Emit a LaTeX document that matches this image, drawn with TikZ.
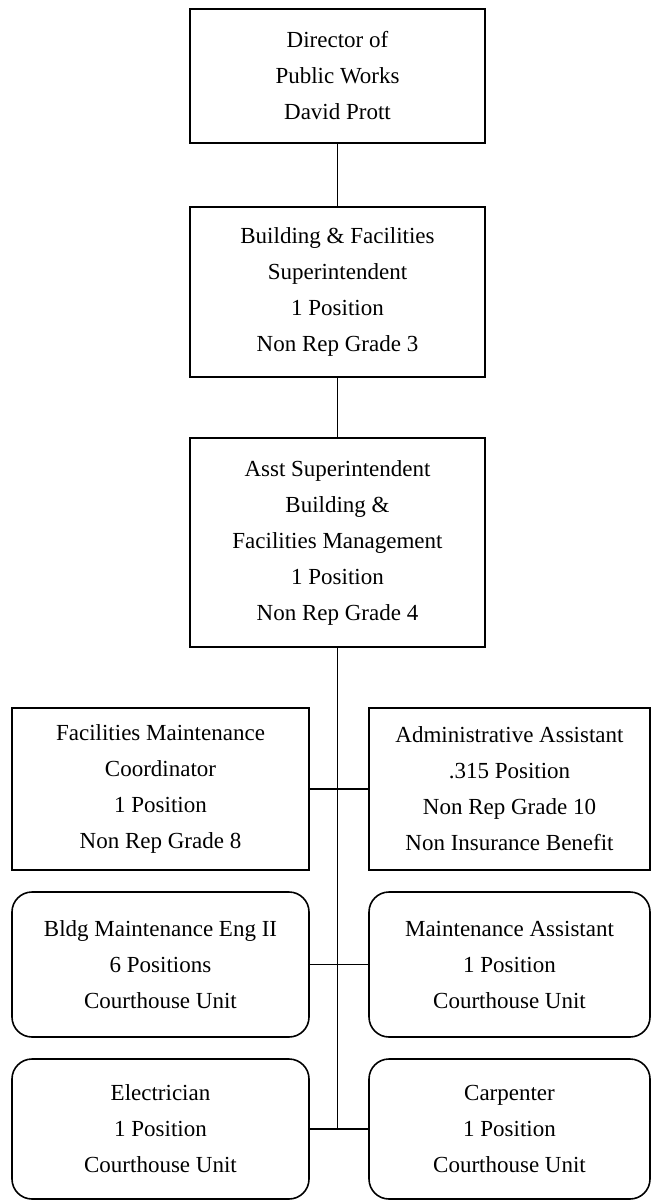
\documentclass[tikz,border=0pt]{standalone}
\usepackage{fontspec}
\setmainfont{Liberation Serif}
\begin{document}
\begin{tikzpicture}[x=1pt,y=-1pt,
  post/.style={draw, line width=1.6pt, align=center, inner sep=0pt,
    font=\fontsize{23}{36}\selectfont},
  sqbox/.style={post, rectangle},
  rdbox/.style={post, rectangle, rounded corners=20pt},
  link/.style={line width=1.6pt}]
\useasboundingbox (0,0) rectangle (652,1201);

% management chain
\node[sqbox, minimum width=295pt, minimum height=134pt] (dir) at (337.5,76)
  {Director of\\Public Works\\David Prott};
\node[sqbox, minimum width=295pt, minimum height=170pt] (bfs) at (337.5,292)
  {Building \& Facilities\\Superintendent\\1 Position\\Non Rep Grade 3};
\node[sqbox, minimum width=295pt, minimum height=209pt] (asst) at (337.5,542.5)
  {Asst Superintendent\\Building \&\\Facilities Management\\1 Position\\Non Rep Grade 4};

% staff row
\node[sqbox, minimum width=297pt, minimum height=162pt] (fmc) at (160.5,789)
  {Facilities Maintenance\\Coordinator\\1 Position\\Non Rep Grade 8};
\node[sqbox, minimum width=281pt, minimum height=162pt] (adm) at (509.5,789)
  {Administrative Assistant\\.315 Position\\Non Rep Grade 10\\Non Insurance Benefit};

% courthouse unit rows
\node[rdbox, minimum width=297pt, minimum height=145pt] (bme) at (160.5,964.5)
  {Bldg Maintenance Eng II\\6 Positions\\Courthouse Unit};
\node[rdbox, minimum width=281pt, minimum height=145pt] (ma) at (509.5,964.5)
  {Maintenance Assistant\\1 Position\\Courthouse Unit};
\node[rdbox, minimum width=297pt, minimum height=140pt] (ele) at (160.5,1129)
  {Electrician\\1 Position\\Courthouse Unit};
\node[rdbox, minimum width=281pt, minimum height=140pt] (car) at (509.5,1129)
  {Carpenter\\1 Position\\Courthouse Unit};

% connectors
\coordinate (trunkend) at (asst.south |- ele.east);
\draw[link] (dir.south) -- (bfs.north);
\draw[link] (bfs.south) -- (asst.north);
\draw[link] (asst.south) -- (trunkend);
\draw[link] (fmc.east) -- (adm.west);
\draw[link] (bme.east) -- (ma.west);
\draw[link] (ele.east) -- (car.west);
\end{tikzpicture}
\end{document}
